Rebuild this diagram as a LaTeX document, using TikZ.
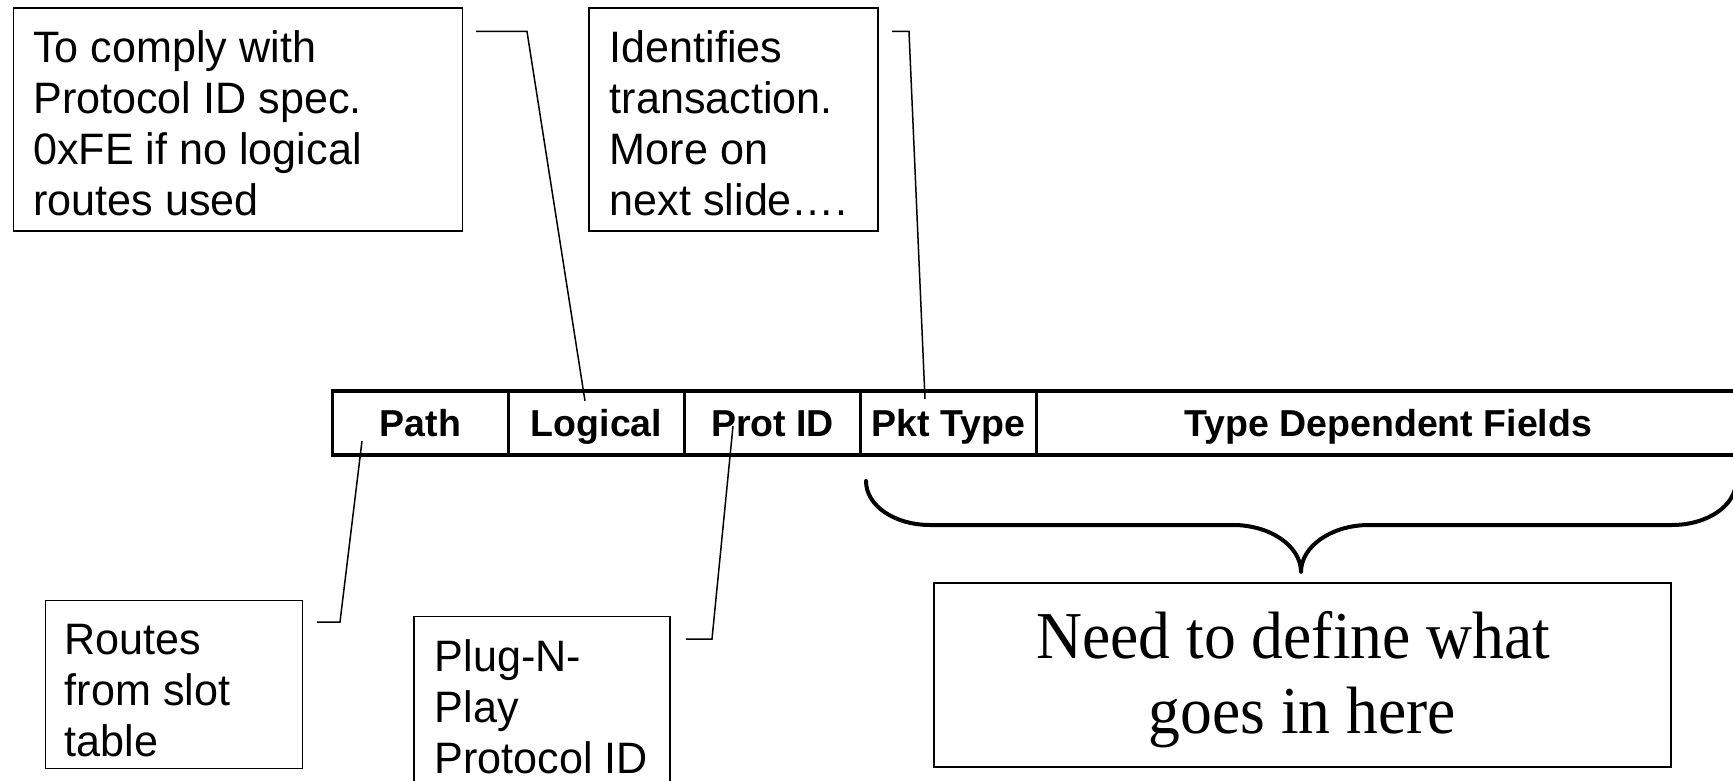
\documentclass[tikz,border=0pt]{standalone}
\usepackage{fontspec}
\newfontfamily\notefamily[FakeStretch=0.98]{Liberation Sans}
\newfontfamily\fieldfamily{Liberation Sans}
\newfontfamily\bigfamily[FakeStretch=0.95]{Liberation Serif}
\begin{document}
\begin{tikzpicture}[x=1pt,y=-1pt,
  note/.style={draw, line width=1.7pt, anchor=north west, inner ysep=0pt,
    font=\notefamily\fontsize{44}{51}\selectfont},
  bignote/.style={draw, line width=1.7pt, anchor=north west, inner ysep=0pt,
    font=\bigfamily\fontsize{67}{75}\selectfont},
  cell/.style={draw, line width=3.5pt, minimum width=176pt, minimum height=64pt,
    inner sep=0pt, text height=27pt, text depth=0pt,
    font=\fieldfamily\bfseries\fontsize{37.5}{44}\selectfont},
  callout/.style={line width=1.5pt},
  bracestyle/.style={line width=4pt, line cap=round, line join=round}]

\useasboundingbox (0,0) rectangle (1733,781);
\fill[white] (0,0) rectangle (1733,781);
\clip (0,0) rectangle (1733,781);

% upper notes
\node[note, inner xsep=20pt, text height=55pt, text depth=168pt] (comply) at (12.5,7)
  {\parbox[t]{409pt}{To comply with\\Protocol ID spec.\\0xFE if no logical\\routes used}};
\node[note, inner xsep=21pt, text height=55pt, text depth=168pt] (ident) at (588,7)
  {\parbox[t]{247pt}{Identifies\\transaction.\\More on\\next slide….}};

% lower notes
\node[note, inner xsep=19.5pt, text height=54pt, text depth=114pt] (routes) at (44.5,599.5)
  {\parbox[t]{218pt}{Routes\\from slot\\table}};
\node[note, inner xsep=21pt, text height=55pt, text depth=145pt] (plug) at (413,615.5)
  {\parbox[t]{214pt}{Plug-N-\\Play\\Protocol ID}};
\node[bignote, inner xsep=10pt, text height=76pt, text depth=108pt] (define) at (933,582)
  {\parbox[t]{717pt}{\centering Need to define what\kern18pt\\goes in here}};

% packet fields
\node[cell] (path) at (420.5,423) {Path};
\node[cell] (logical) at (596.5,423) {Logical};
\node[cell] (protid) at (772.5,423) {Prot ID};
\node[cell] (pkttype) at (948.5,423) {Pkt Type};
\node[cell, minimum width=703.5pt] (typedep) at (1388.25,423) {Type Dependent Fields};

% callout lines
\coordinate (lgA) at (476,31.5);
\coordinate (lgB) at (527,31.5);
\coordinate (lgC) at (585,401);
\draw[callout] (lgA) -- (lgB) -- (lgC);

\coordinate (ptA) at (892,31.5);
\coordinate (ptB) at (909,31.5);
\coordinate (ptC) at (925,399);
\draw[callout] (ptA) -- (ptB) -- (ptC);

\coordinate (paA) at (362,441);
\coordinate (paB) at (340,622);
\coordinate (paC) at (317,622);
\draw[callout] (paA) -- (paB) -- (paC);

\coordinate (prA) at (733,426);
\coordinate (prB) at (712,639);
\coordinate (prC) at (686,639);
\draw[callout] (prA) -- (prB) -- (prC);

% brace
\coordinate (brL) at (866,481);
\coordinate (brTip) at (1301,572);
\coordinate (brR) at (1736,481);
\draw[bracestyle] (brL) .. controls (866,506) and (895,525) .. (930,525)
  -- (1233,525) .. controls (1270,525) and (1301,546) .. (brTip)
  .. controls (1301,546) and (1332,525) .. (1369,525)
  -- (1672,525) .. controls (1707,525) and (1736,506) .. (brR);
\end{tikzpicture}
\end{document}
